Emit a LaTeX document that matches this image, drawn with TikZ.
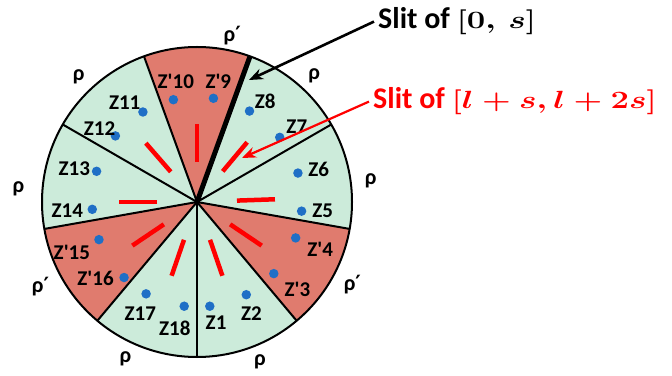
\documentclass[tikz,border=0pt]{standalone}
\usepackage{fontspec}
\setmainfont{Carlito}
\newfontfamily\symfont{DejaVu Sans}
\usetikzlibrary{arrows.meta,calc,positioning}
\definecolor{mint}{HTML}{CCEBDA}
\definecolor{salmon}{HTML}{E07B6E}
\definecolor{dotblue}{HTML}{1F6FC6}
\definecolor{slitred}{HTML}{FF0000}
\newcommand{\rp}{ρ{\symfont\fontsize{21}{21}\selectfont ′}}
\newcommand{\slitmath}[1]{{\fontsize{30}{30}\selectfont\scalebox{1.32}[1]{\boldmath$#1$}}}
\begin{document}
\begin{tikzpicture}[x=1pt,y=1pt, every node/.style={inner sep=0pt},
  zlab/.style={font=\bfseries\fontsize{21}{21}\selectfont},
  rlab/.style={font=\bfseries\fontsize{22}{22}\selectfont},
  pt/.style={circle,fill=dotblue,minimum size=9.5pt},
  slitmark/.style={draw=slitred,line width=4.5pt},
  rim/.style={line width=2pt},
  note/.style={font=\bfseries\fontsize{30}{30}\selectfont,anchor=base west,inner xsep=4pt},
  a/.style={-{Stealth[length=14pt,width=11pt]},line width=2.6pt}]
  \useasboundingbox (0,0) rectangle (672,375);
  \coordinate (O) at (197,173);
  \foreach \a/\c in {-90/mint,-50/salmon,-10/mint,30/mint,70/salmon,110/mint,150/mint,190/salmon,230/mint}
    \fill[\c] (O) -- ($(O)+(\a:155)$) arc[start angle=\a,delta angle=40,radius=155] -- cycle;
  \foreach \a in {-90,-50,-10,30,110,150,190,230}
    \draw[rim] (O) -- ($(O)+(\a:155)$);
  \draw[rim] (O) circle[radius=155];
  \draw[line width=5pt] (O) -- ($(O)+(70:155)$);
  \foreach \a in {90,50,2,-34,-71,-109,-146,180,131}
    \draw[slitmark] ($(O)+(\a:40)$) -- ($(O)+(\a:78)$);
  \foreach \k/\t/\da/\lr/\la in {1/Z1/-83/122/-81,2/Z2/-62/124/-64,3/{Z\textquotesingle 3}/-43/133/-41,
      4/{Z\textquotesingle 4}/-20/132/-21,5/Z5/-5/126/-4,6/Z6/16/126/15,7/Z7/38/125/37,8/Z8/60/122/56,
      9/{Z\textquotesingle 9}/81/123/80,10/{Z\textquotesingle 10}/103/122/100,11/Z11/121/123/126,
      12/Z12/141/122/143,13/Z13/163/127/165,14/Z14/184/130/184,15/{Z\textquotesingle 15}/201/135/202,
      16/{Z\textquotesingle 16}/226/127/217,17/Z17/241/125/243,18/Z18/263/128/260}
  {
    \node[pt] (z\k) at ($(O)+(\da:105)$) {};
    \node[zlab] (l\k) at ($(O)+(\la:\lr)$) {\t};
  }
  \foreach \t/\a/\r [count=\i] in {\rp/78/170,ρ/47/172,ρ/7/175,\rp/-28/176,ρ/-68.5/172,ρ/-114.6/172,
      \rp/-151.5/178,ρ/175.7/179,ρ/133.5/172}
    \node[rlab] (rho\i) at ($(O)+(\a:\r)$) {\t};
  \node[note] (slitA) at (374,346) {Slit of \slitmath{[0,\,s]}};
  \node[note,text=slitred] (slitB) at (369,266) {Slit of \slitmath{[l+s,l+2s]}};
  \coordinate (tipA) at (249,295);
  \coordinate (tipB) at (242,217);
  \draw[a] (slitA.west) -- (tipA);
  \draw[a,slitred,line width=2.2pt] (slitB.west) -- (tipB);
\end{tikzpicture}
\end{document}
